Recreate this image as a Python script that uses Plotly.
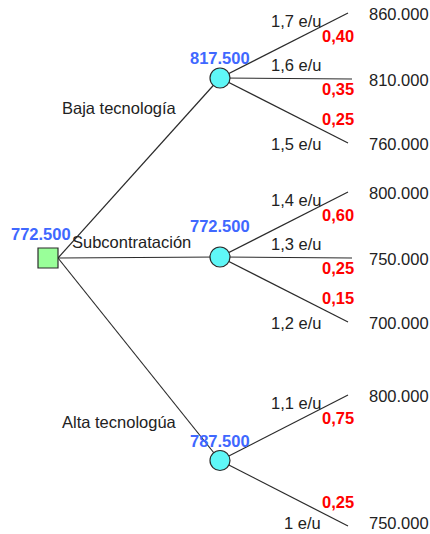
import plotly.graph_objects as go

# ---------------- data ----------------
decision_value = 772500
alternatives = ["Baja tecnología", "Subcontratación", "Alta tecnologúa"]
expected_values = [817500, 772500, 787500]
price_labels = [["1,7 e/u", "1,6 e/u", "1,5 e/u"],
                ["1,4 e/u", "1,3 e/u", "1,2 e/u"],
                ["1,1 e/u", "1 e/u"]]
probabilities = [[0.40, 0.35, 0.25],
                 [0.60, 0.25, 0.15],
                 [0.75, 0.25]]
payoffs = [[860000, 810000, 760000],
           [800000, 750000, 700000],
           [800000, 750000]]

# ---------------- layout (pixel geometry) ----------------
W, H = 430, 534
ROOT = (48, 258)
SQ = 20                 # decision square size
CIRC = 20               # chance circle size
CHANCE_X = 220
LEAF_X_DIAG, LEAF_X_FLAT = 348, 352
LEAF_Y = [[13, 79, 143], [192, 258, 322], [395, 526]]
EV_DY = [-20, -31, -20]
ALT_LABEL_POS = [(179, 108), (193, 242), (179, 422)]
TEXT_Y_MAX = H - 11     # keep bottom texts inside the canvas

LINE_C = "#2b2b2b"
TXT_C = "#222222"
BLUE = "#3f68ff"
RED = "#ff0000"
FONT = "Liberation Sans, Arial, sans-serif"
FS = 16.5


def es_num(v):
    return f"{v:,.0f}".replace(",", ".")


def es_prob(p):
    return f"{p:.2f}".replace(".", ",")


fig = go.Figure()
ann = []

chance_nodes = []
for i, ys in enumerate(LEAF_Y):
    cy = (ys[0] + ys[-1]) / 2
    chance_nodes.append((CHANCE_X, cy))

# edges from root to chance nodes
for i, (cx, cy) in enumerate(chance_nodes):
    fig.add_trace(go.Scatter(x=[ROOT[0] + SQ / 2, cx], y=[ROOT[1], cy], mode="lines",
                             line=dict(color=LINE_C, width=1.2), hoverinfo="skip"))

# edges from chance nodes to leaves + texts
for i, (cx, cy) in enumerate(chance_nodes):
    for j, ly in enumerate(LEAF_Y[i]):
        flat = abs(ly - cy) < 2
        lx = LEAF_X_FLAT if flat else LEAF_X_DIAG
        fig.add_trace(go.Scatter(x=[cx, lx], y=[cy, ly], mode="lines",
                                 line=dict(color=LINE_C, width=1.2), hoverinfo="skip"))
        if flat:
            dl, dp = -14, 10
        elif ly < cy:
            dl, dp = 8, 23
        else:
            dl, dp = 1, -24
        ann.append(dict(x=323, y=min(ly + dl, TEXT_Y_MAX), text=price_labels[i][j],
                        xanchor="right", yanchor="middle",
                        font=dict(color=TXT_C, size=FS, family=FONT)))
        ann.append(dict(x=356, y=ly + dp, text="<b>" + es_prob(probabilities[i][j]) + "</b>",
                        xanchor="right", yanchor="middle",
                        font=dict(color=RED, size=FS, family=FONT)))
        ann.append(dict(x=367, y=min(ly + 1, TEXT_Y_MAX), text=es_num(payoffs[i][j]),
                        xanchor="left", yanchor="middle",
                        font=dict(color=TXT_C, size=FS, family=FONT)))
    ann.append(dict(x=cx, y=cy + EV_DY[i], text="<b>" + es_num(expected_values[i]) + "</b>",
                    xanchor="center", yanchor="middle",
                    font=dict(color=BLUE, size=FS, family=FONT)))
    ax, ay = ALT_LABEL_POS[i]
    ann.append(dict(x=ax, y=ay, text=alternatives[i], xanchor="right", yanchor="middle",
                    font=dict(color=TXT_C, size=FS, family=FONT)))

# nodes
fig.add_trace(go.Scatter(x=[c[0] for c in chance_nodes], y=[c[1] for c in chance_nodes],
                         mode="markers", hoverinfo="skip",
                         marker=dict(symbol="circle", size=CIRC, color="#5ff7f7",
                                     line=dict(color=LINE_C, width=1.2))))
fig.add_trace(go.Scatter(x=[ROOT[0]], y=[ROOT[1]], mode="markers", hoverinfo="skip",
                         marker=dict(symbol="square", size=SQ, color="#99ff99",
                                     line=dict(color=LINE_C, width=1.2))))

ann.append(dict(x=ROOT[0] - 7, y=ROOT[1] - 24, text="<b>" + es_num(decision_value) + "</b>",
                xanchor="center", yanchor="middle", font=dict(color=BLUE, size=FS, family=FONT)))

for a in ann:
    a.update(showarrow=False, xref="x", yref="y")

fig.update_layout(
    width=W, height=H, autosize=False,
    margin=dict(l=0, r=0, t=0, b=0),
    paper_bgcolor="white", plot_bgcolor="white",
    showlegend=False,
    xaxis=dict(range=[0, W], visible=False, fixedrange=True),
    yaxis=dict(range=[H, 0], visible=False, fixedrange=True),
    annotations=ann,
)

fig.write_html("out.html", config={"displayModeBar": False},
               post_script="document.body.style.margin='0';document.body.style.overflow='hidden';")
